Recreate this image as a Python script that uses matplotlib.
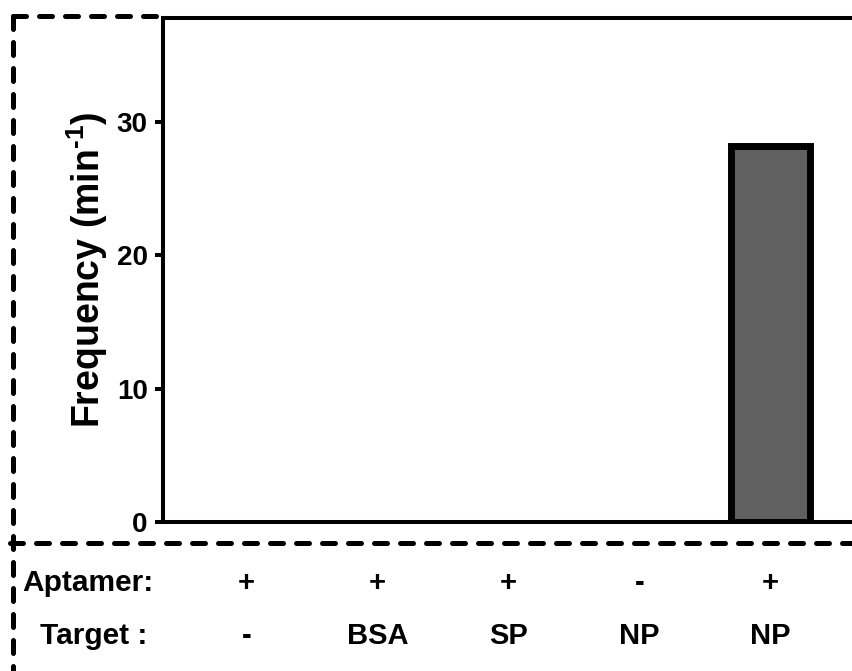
import matplotlib.pyplot as plt
from matplotlib.transforms import blended_transform_factory
from matplotlib.lines import Line2D

plt.rcParams["font.family"] = ["Liberation Sans", "DejaVu Sans"]
plt.rcParams["font.weight"] = "bold"
plt.rcParams["mathtext.fontset"] = "custom"
plt.rcParams["mathtext.rm"] = "Liberation Sans:bold"
plt.rcParams["mathtext.it"] = "Liberation Sans:bold"
plt.rcParams["mathtext.bf"] = "Liberation Sans:bold"

# Données
aptamer = ["+", "+", "+", "-", "+"]
target = ["-", "BSA", "SP", "NP", "NP"]
frequence = [0, 0, 0, 0, 28.2]
yticks = [0, 10, 20, 30]

fig = plt.figure(figsize=(8.53, 6.71), dpi=100)
ax = fig.add_axes([0.191, 0.222, 0.866, 0.751])

x = list(range(len(frequence)))
ax.bar(
    x,
    frequence,
    width=0.6,
    color="#606060",
    edgecolor="black",
    linewidth=[5 if v > 0 else 0 for v in frequence],
    zorder=3,
)

ax.set_xlim(-0.64, 5.0)
ax.set_ylim(0, 37.8)
ax.set_xticks([])
ax.set_yticks(yticks)
ax.tick_params(axis="y", length=6, width=2.9, pad=5, labelsize=20)
for s in ax.spines.values():
    s.set_linewidth(2.9)
ax.set_ylabel(r"Frequency (min$^{\text{-1}}$)", fontsize=27, fontweight="bold", labelpad=5)

# Lignes du tableau sous le graphique
trans = blended_transform_factory(ax.transData, fig.transFigure)
for i in x:
    ax.text(i, 0.131, aptamer[i], transform=trans, ha="center", va="center",
            fontsize=21, fontweight="bold", clip_on=False)
    ax.text(i, 0.052, target[i], transform=trans, ha="center", va="center",
            fontsize=21, fontweight="bold", clip_on=False)
fig.text(0.026, 0.131, "Aptamer:", ha="left", va="center", fontsize=21.5, fontweight="bold")
fig.text(0.047, 0.052, "Target :", ha="left", va="center", fontsize=21.5, fontweight="bold")

# Cadre en pointillés
style = dict(color="black", linewidth=3.6, linestyle=(0, (2.6, 2.6)),
             dash_capstyle="round", transform=fig.transFigure)
fig.add_artist(Line2D([0.015, 0.015], [0.976, 0.0], **style))
fig.add_artist(Line2D([0.015, 0.186], [0.976, 0.976], **style))
fig.add_artist(Line2D([0.012, 1.0], [0.191, 0.191], **style))

fig.savefig("out.png", dpi=100)
